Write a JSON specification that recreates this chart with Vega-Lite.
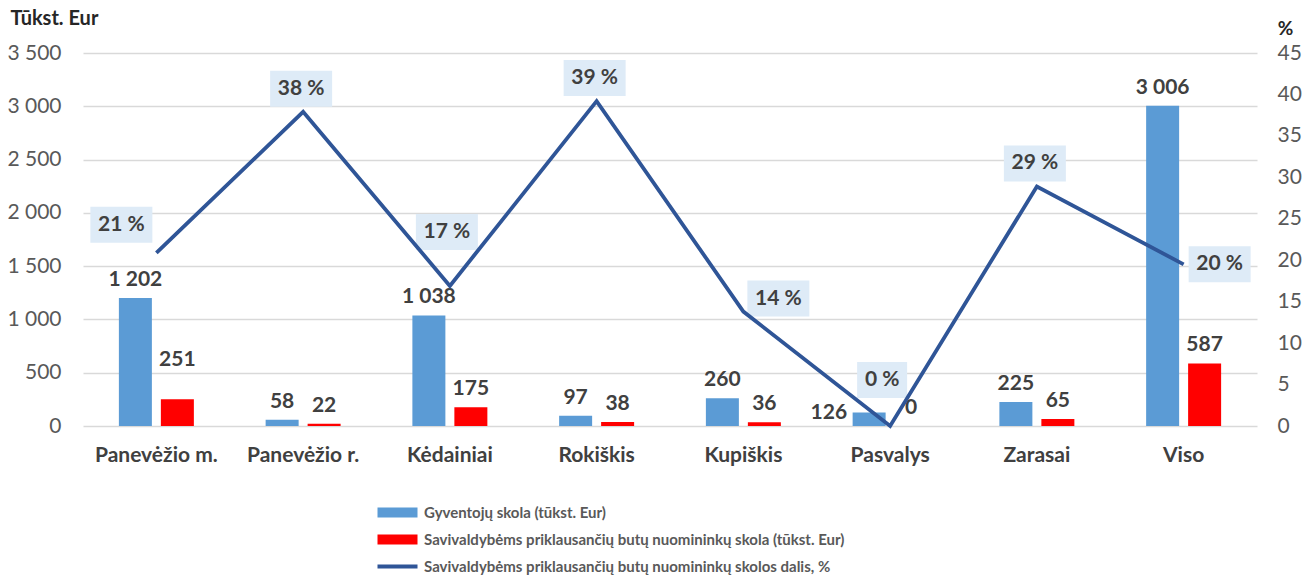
{
  "$schema": "https://vega.github.io/schema/vega-lite/v6.json",
  "width": 1174,
  "height": 373,
  "autosize": {"type": "none"},
  "padding": {"left": 83, "top": 53, "right": 47, "bottom": 150},
  "background": "white",
  "config": {
    "view": {"stroke": null},
    "font": "Lato",
    "locale": {"number": {"decimal": ",", "thousands": " ", "grouping": [3], "currency": ["", " €"]}}
  },
  "datasets": {
    "bars": [
      {"place": "Panevėžio m.", "series": "Gyventojų skola (tūkst. Eur)", "value": 1202},
      {"place": "Panevėžio m.", "series": "Savivaldybėms priklausančių butų nuomininkų skola (tūkst. Eur)", "value": 251},
      {"place": "Panevėžio r.", "series": "Gyventojų skola (tūkst. Eur)", "value": 58},
      {"place": "Panevėžio r.", "series": "Savivaldybėms priklausančių butų nuomininkų skola (tūkst. Eur)", "value": 22},
      {"place": "Kėdainiai", "series": "Gyventojų skola (tūkst. Eur)", "value": 1038},
      {"place": "Kėdainiai", "series": "Savivaldybėms priklausančių butų nuomininkų skola (tūkst. Eur)", "value": 175},
      {"place": "Rokiškis", "series": "Gyventojų skola (tūkst. Eur)", "value": 97},
      {"place": "Rokiškis", "series": "Savivaldybėms priklausančių butų nuomininkų skola (tūkst. Eur)", "value": 38},
      {"place": "Kupiškis", "series": "Gyventojų skola (tūkst. Eur)", "value": 260},
      {"place": "Kupiškis", "series": "Savivaldybėms priklausančių butų nuomininkų skola (tūkst. Eur)", "value": 36},
      {"place": "Pasvalys", "series": "Gyventojų skola (tūkst. Eur)", "value": 126},
      {"place": "Pasvalys", "series": "Savivaldybėms priklausančių butų nuomininkų skola (tūkst. Eur)", "value": 0},
      {"place": "Zarasai", "series": "Gyventojų skola (tūkst. Eur)", "value": 225},
      {"place": "Zarasai", "series": "Savivaldybėms priklausančių butų nuomininkų skola (tūkst. Eur)", "value": 65},
      {"place": "Viso", "series": "Gyventojų skola (tūkst. Eur)", "value": 3006},
      {"place": "Viso", "series": "Savivaldybėms priklausančių butų nuomininkų skola (tūkst. Eur)", "value": 587}
    ],
    "pct": [
      {"place": "Panevėžio m.", "pct": 20.9},
      {"place": "Panevėžio r.", "pct": 37.9},
      {"place": "Kėdainiai", "pct": 16.9},
      {"place": "Rokiškis", "pct": 39.2},
      {"place": "Kupiškis", "pct": 13.8},
      {"place": "Pasvalys", "pct": 0},
      {"place": "Zarasai", "pct": 28.9},
      {"place": "Viso", "pct": 19.5}
    ]
  },
  "encoding": {
    "x": {
      "field": "place",
      "type": "nominal",
      "sort": null,
      "scale": {"type": "band", "paddingInner": 0.489, "paddingOuter": 0.2445},
      "axis": {
        "title": null,
        "labelAngle": 0,
        "labelFontSize": 21,
        "labelFontWeight": "bold",
        "labelColor": "#404040",
        "labelPadding": 18,
        "domain": false,
        "ticks": false
      }
    }
  },
  "layer": [
    {
      "data": {"name": "bars"},
      "encoding": {
        "y": {
          "field": "value",
          "type": "quantitative",
          "scale": {"domain": [0, 3500], "nice": false},
          "axis": {
            "orient": "left",
            "values": [0, 500, 1000, 1500, 2000, 2500, 3000, 3500],
            "format": ",d",
            "title": "Tūkst. Eur",
            "titleAngle": 0,
            "titleX": -73,
            "titleY": -35,
            "titleAlign": "left",
            "titleBaseline": "middle",
            "titleFontSize": 20,
            "titleFontWeight": "bold",
            "titleColor": "#262626",
            "labelFontSize": 21,
            "labelColor": "#595959",
            "labelPadding": 22,
            "domain": false,
            "ticks": false,
            "grid": true,
            "gridColor": "#D9D9D9",
            "gridWidth": 1.3
          }
        }
      },
      "layer": [
        {
          "mark": {"type": "bar"},
          "encoding": {
            "xOffset": {
              "field": "series",
              "type": "nominal",
              "sort": null,
              "scale": {"paddingInner": 0.214, "paddingOuter": 0}
            },
            "color": {
              "field": "series",
              "type": "nominal",
              "scale": {
                "domain": [
                  "Gyventojų skola (tūkst. Eur)",
                  "Savivaldybėms priklausančių butų nuomininkų skola (tūkst. Eur)",
                  "Savivaldybėms priklausančių butų nuomininkų skolos dalis, %"
                ],
                "range": ["#5B9BD5", "#FF0000", "#2F5597"]
              },
              "legend": {
                "orient": "none",
                "legendX": 307,
                "legendY": 452,
                "title": null,
                "direction": "vertical",
                "padding": 0,
                "symbolSize": 100,
                "labelOffset": 19,
                "labelFontSize": 15,
                "labelFontWeight": "bold",
                "labelColor": "#595959",
                "labelLimit": 800,
                "rowPadding": 11,
                "encode": {
                  "symbols": {
                    "update": {
                      "shape": {"signal": "datum.value === 'Savivaldybėms priklausančių butų nuomininkų skolos dalis, %' ? 'M-4,-0.4H4V0.4H-4Z' : 'M-4,-1H4V1H-4Z'"},
                      "fill": {"scale": "color", "field": "value"},
                      "stroke": {"value": "transparent"},
                      "strokeWidth": {"value": 0},
                      "opacity": {"value": 1},
                      "fillOpacity": {"value": 1},
                      "size": {"value": 100}
                    }
                  }
                }
              }
            }
          }
        },
        {
          "transform": [{"filter": "!(datum.place === 'Pasvalys' && datum.value === 126) && !(datum.place === 'Panevėžio m.' && datum.value === 251)"}],
          "mark": {"type": "text", "baseline": "middle", "dy": -18, "fontSize": 21, "fontWeight": "bold", "color": "#404040"},
          "encoding": {
            "xOffset": {"field": "series", "type": "nominal", "sort": null},
            "text": {"field": "value", "type": "quantitative", "format": ",d"}
          }
        },
        {
          "transform": [{"filter": "datum.place === 'Panevėžio m.' && datum.value === 251"}],
          "mark": {"type": "text", "baseline": "middle", "dy": -39, "fontSize": 21, "fontWeight": "bold", "color": "#404040"},
          "encoding": {
            "xOffset": {"field": "series", "type": "nominal", "sort": null},
            "text": {"field": "value", "type": "quantitative", "format": ",d"}
          }
        },
        {
          "transform": [{"filter": "datum.place === 'Pasvalys' && datum.value === 126"}],
          "mark": {"type": "text", "baseline": "middle", "align": "right", "dx": -22, "dy": 0, "fontSize": 21, "fontWeight": "bold", "color": "#404040"},
          "encoding": {
            "xOffset": {"field": "series", "type": "nominal", "sort": null},
            "text": {"field": "value", "type": "quantitative", "format": ",d"}
          }
        }
      ]
    },
    {
      "data": {"name": "pct"},
      "transform": [{"calculate": "format(datum.pct, '.0f') + ' %'", "as": "lbl"}],
      "encoding": {
        "y": {
          "field": "pct",
          "type": "quantitative",
          "scale": {"domain": [0, 45], "nice": false},
          "axis": {
            "orient": "right",
            "values": [0, 5, 10, 15, 20, 25, 30, 35, 40, 45],
            "title": "%",
            "titleAngle": 0,
            "titleX": 28,
            "titleY": -25,
            "titleAlign": "center",
            "titleBaseline": "middle",
            "titleFontSize": 19,
            "titleFontWeight": "bold",
            "titleColor": "#262626",
            "labelFontSize": 21,
            "labelColor": "#595959",
            "labelPadding": 20,
            "domain": false,
            "ticks": false,
            "grid": false
          }
        }
      },
      "layer": [
        {"transform": [{"filter": "indexof(['Panevėžio r.','Rokiškis','Zarasai'], datum.place) >= 0"}],
         "mark": {"type": "point", "shape": "M-31,-18H31V18H-31Z", "size": 4, "filled": true, "color": "#DEEBF7", "opacity": 1, "strokeWidth": 0, "xOffset": -2, "yOffset": -23}},
        {"transform": [{"filter": "datum.place === 'Panevėžio m.'"}],
         "mark": {"type": "point", "shape": "M-31,-18H31V18H-31Z", "size": 4, "filled": true, "color": "#DEEBF7", "opacity": 1, "strokeWidth": 0, "xOffset": -35, "yOffset": -28}},
        {"transform": [{"filter": "datum.place === 'Kėdainiai'"}],
         "mark": {"type": "point", "shape": "M-31,-18H31V18H-31Z", "size": 4, "filled": true, "color": "#DEEBF7", "opacity": 1, "strokeWidth": 0, "xOffset": -3, "yOffset": -54}},
        {"transform": [{"filter": "datum.place === 'Kupiškis'"}],
         "mark": {"type": "point", "shape": "M-31,-18H31V18H-31Z", "size": 4, "filled": true, "color": "#DEEBF7", "opacity": 1, "strokeWidth": 0, "xOffset": 35, "yOffset": -13}},
        {"transform": [{"filter": "datum.place === 'Pasvalys'"}],
         "mark": {"type": "point", "shape": "M-25,-18H25V18H-25Z", "size": 4, "filled": true, "color": "#DEEBF7", "opacity": 1, "strokeWidth": 0, "xOffset": -8, "yOffset": -46}},
        {"transform": [{"filter": "datum.place === 'Viso'"}],
         "mark": {"type": "point", "shape": "M-31,-18H31V18H-31Z", "size": 4, "filled": true, "color": "#DEEBF7", "opacity": 1, "strokeWidth": 0, "xOffset": 36, "yOffset": 0}},
        {
          "mark": {"type": "line", "color": "#2F5597", "strokeWidth": 3.8, "strokeJoin": "miter"},
          "encoding": {}
        },
        {"transform": [{"filter": "indexof(['Panevėžio r.','Rokiškis','Zarasai'], datum.place) >= 0"}],
         "mark": {"type": "text", "baseline": "middle", "align": "center", "fontSize": 21, "fontWeight": "bold", "color": "#404040", "dx": -2, "dy": -23},
         "encoding": {"text": {"field": "lbl"}}},
        {"transform": [{"filter": "datum.place === 'Panevėžio m.'"}],
         "mark": {"type": "text", "baseline": "middle", "align": "center", "fontSize": 21, "fontWeight": "bold", "color": "#404040", "dx": -35, "dy": -28},
         "encoding": {"text": {"field": "lbl"}}},
        {"transform": [{"filter": "datum.place === 'Kėdainiai'"}],
         "mark": {"type": "text", "baseline": "middle", "align": "center", "fontSize": 21, "fontWeight": "bold", "color": "#404040", "dx": -3, "dy": -54},
         "encoding": {"text": {"field": "lbl"}}},
        {"transform": [{"filter": "datum.place === 'Kupiškis'"}],
         "mark": {"type": "text", "baseline": "middle", "align": "center", "fontSize": 21, "fontWeight": "bold", "color": "#404040", "dx": 35, "dy": -13},
         "encoding": {"text": {"field": "lbl"}}},
        {"transform": [{"filter": "datum.place === 'Pasvalys'"}],
         "mark": {"type": "text", "baseline": "middle", "align": "center", "fontSize": 21, "fontWeight": "bold", "color": "#404040", "dx": -8, "dy": -46},
         "encoding": {"text": {"field": "lbl"}}},
        {"transform": [{"filter": "datum.place === 'Viso'"}],
         "mark": {"type": "text", "baseline": "middle", "align": "center", "fontSize": 21, "fontWeight": "bold", "color": "#404040", "dx": 36, "dy": 0},
         "encoding": {"text": {"field": "lbl"}}}
      ]
    }
  ],
  "resolve": {"scale": {"y": "independent"}}
}
